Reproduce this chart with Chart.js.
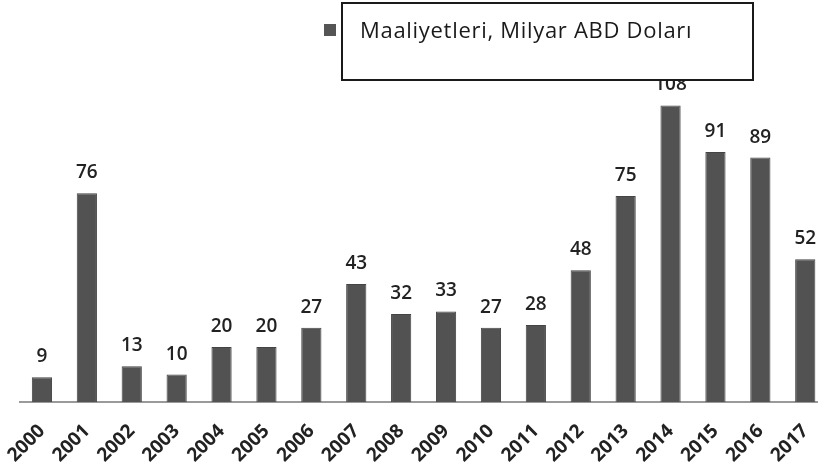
<!DOCTYPE html>
<html>
<head>
<meta charset="utf-8">
<script src="https://cdn.jsdelivr.net/npm/chart.js@4/dist/chart.umd.min.js"></script>
<style>
  html, body { margin: 0; padding: 0; background: #fff; overflow: hidden; }
  #wrap { position: relative; width: 818px; height: 469px; overflow: hidden; }
  canvas { position: absolute; left: 0; top: 0; }
</style>
</head>
<body>
<div id="wrap"><canvas id="c" width="830" height="469"></canvas></div>
<script>
const years = ["2000","2001","2002","2003","2004","2005","2006","2007","2008","2009","2010","2011","2012","2013","2014","2015","2016","2017"];
const costs = [9, 76, 13, 10, 20, 20, 27, 43, 32, 33, 27, 28, 48, 75, 108, 91, 89, 52];
const seriesLabel = "Maaliyetleri, Milyar ABD Doları";

const FONT = "'Open Sans', 'DejaVu Sans', sans-serif";

const valueLabels = {
  id: 'valueLabels',
  afterDatasetsDraw(chart) {
    const ctx = chart.ctx;
    const meta = chart.getDatasetMeta(0);
    ctx.save();
    ctx.font = "600 19px " + FONT;
    ctx.fillStyle = '#222222';
    ctx.textAlign = 'center';
    ctx.textBaseline = 'alphabetic';
    meta.data.forEach((bar, i) => {
      ctx.fillText(String(chart.data.datasets[0].data[i]), bar.x, bar.y - 15);
    });
    ctx.restore();
  }
};

const boxLegend = {
  id: 'boxLegend',
  afterDraw(chart) {
    const ctx = chart.ctx;
    ctx.save();
    ctx.fillStyle = '#ffffff';
    ctx.fillRect(342, 3, 411, 77);
    ctx.strokeStyle = '#1a1a1a';
    ctx.lineWidth = 2;
    ctx.strokeRect(342, 3, 411, 77);
    ctx.fillStyle = '#555555';
    ctx.fillRect(324, 24, 12, 12);
    ctx.fillStyle = '#1a1a1a';
    ctx.font = "22px " + FONT;
    try { ctx.letterSpacing = '0.7px'; } catch (e) {}
    ctx.textAlign = 'left';
    ctx.textBaseline = 'alphabetic';
    ctx.fillText(chart.data.datasets[0].label, 360, 38);
    ctx.restore();
  }
};

new Chart(document.getElementById('c'), {
  type: 'bar',
  data: {
    labels: years,
    datasets: [{
      label: seriesLabel,
      data: costs,
      backgroundColor: '#525252',
      borderColor: '#444444',
      borderWidth: 1,
      categoryPercentage: 1.0,
      barPercentage: 0.45
    }]
  },
  options: {
    responsive: false,
    animation: false,
    devicePixelRatio: 1,
    layout: { padding: { left: 19.5, right: 2.3, top: 45, bottom: 0 } },
    plugins: {
      legend: { display: false },
      tooltip: { enabled: false }
    },
    scales: {
      y: {
        display: false,
        min: 0,
        max: 130
      },
      x: {
        offset: true,
        grid: { display: false, drawTicks: false },
        border: { display: true, color: '#9a9a9a', width: 2 },
        ticks: {
          color: '#222222',
          font: { family: FONT, size: 19, weight: '700' },
          minRotation: 45,
          maxRotation: 45,
          autoSkip: false,
          padding: 18
        },
        afterFit(scale) { scale.height = 67; scale.paddingLeft = 0; scale.paddingRight = 0; }
      }
    }
  },
  plugins: [valueLabels, boxLegend]
});
</script>
</body>
</html>
